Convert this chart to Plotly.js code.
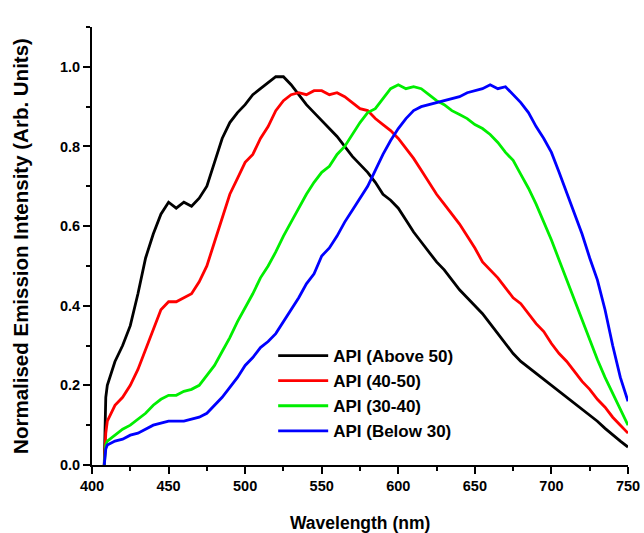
<!DOCTYPE html>
<html>
<head>
<meta charset="utf-8">
<script src="https://cdn.plot.ly/plotly-3.0.1.min.js"></script>
<style>html,body{margin:0;padding:0;background:#fff;}#chart{width:644px;height:533px;}</style>
</head>
<body>
<div id="chart"></div>
<script>
const wavelength = [408,409,410,415,420,425,430,435,440,445,450,455,460,465,470,475,480,485,490,495,500,505,510,515,520,525,530,535,540,545,550,555,560,565,570,575,580,585,590,595,600,605,610,615,620,625,630,635,640,645,650,655,660,665,670,675,680,685,690,695,700,705,710,715,720,725,730,735,740,745,750];

const above50 = [0.0,0.17,0.2,0.26,0.30,0.35,0.43,0.52,0.58,0.63,0.66,0.645,0.66,0.65,0.67,0.70,0.76,0.82,0.86,0.885,0.905,0.93,0.945,0.96,0.975,0.975,0.955,0.93,0.905,0.885,0.865,0.845,0.825,0.80,0.775,0.755,0.735,0.71,0.68,0.665,0.645,0.615,0.585,0.56,0.535,0.51,0.49,0.465,0.44,0.42,0.40,0.38,0.355,0.33,0.305,0.28,0.26,0.245,0.23,0.215,0.2,0.185,0.17,0.155,0.14,0.125,0.11,0.092,0.075,0.06,0.045];

const range40_50 = [0.0,0.08,0.11,0.15,0.17,0.20,0.24,0.29,0.34,0.39,0.41,0.41,0.42,0.43,0.46,0.50,0.56,0.62,0.68,0.72,0.76,0.78,0.82,0.85,0.89,0.915,0.93,0.935,0.93,0.94,0.94,0.93,0.935,0.925,0.91,0.895,0.89,0.87,0.855,0.84,0.82,0.795,0.77,0.74,0.71,0.68,0.655,0.63,0.605,0.575,0.545,0.51,0.49,0.47,0.445,0.42,0.405,0.38,0.355,0.335,0.305,0.28,0.26,0.235,0.21,0.19,0.165,0.145,0.12,0.1,0.08];

const range30_40 = [0.0,0.05,0.06,0.075,0.09,0.10,0.115,0.13,0.15,0.165,0.175,0.175,0.185,0.19,0.20,0.225,0.25,0.285,0.32,0.36,0.395,0.43,0.47,0.50,0.535,0.575,0.61,0.645,0.68,0.71,0.735,0.75,0.78,0.80,0.83,0.86,0.885,0.895,0.92,0.945,0.955,0.945,0.95,0.945,0.93,0.915,0.905,0.89,0.88,0.87,0.855,0.845,0.83,0.81,0.785,0.765,0.73,0.695,0.655,0.61,0.565,0.515,0.465,0.415,0.36,0.31,0.265,0.22,0.18,0.14,0.10];

const below30 = [0.0,0.04,0.05,0.06,0.065,0.075,0.08,0.09,0.10,0.105,0.11,0.11,0.11,0.115,0.12,0.13,0.15,0.17,0.195,0.22,0.25,0.27,0.295,0.31,0.33,0.36,0.39,0.42,0.455,0.48,0.525,0.545,0.575,0.61,0.64,0.67,0.70,0.74,0.78,0.815,0.845,0.87,0.89,0.9,0.905,0.91,0.915,0.92,0.925,0.935,0.94,0.945,0.955,0.945,0.95,0.93,0.91,0.885,0.85,0.82,0.785,0.735,0.685,0.63,0.58,0.52,0.465,0.39,0.3,0.22,0.16];

const seriesNames = ['API (Above 50)','API (40-50)','API (30-40)','API (Below 30)'];
const seriesColors = ['#000000','#ff0000','#00ee00','#0000ff'];
const seriesValues = [above50, range40_50, range30_40, below30];
const xTitle = 'Wavelength (nm)';
const yTitle = 'Normalised Emission Intensity (Arb. Units)';

const traces = seriesValues.map((v,i)=>({
  x: wavelength, y: v, type:'scatter', mode:'lines', name: seriesNames[i],
  line:{color: seriesColors[i], width:2.8}
}));

const FAM = 'Liberation Sans, Arial, sans-serif';
const layout = {
  width:644, height:533,
  margin:{l:92, r:16, t:27, b:68},
  paper_bgcolor:'#fff', plot_bgcolor:'#fff',
  font:{family:FAM, size:14, color:'#000'},
  showlegend:true,
  legend:{x:0.338, y:0.29, xanchor:'left', yanchor:'top', bgcolor:'rgba(0,0,0,0)',
          font:{family:FAM, size:17, color:'#000', weight:'bold'},
          tracegroupgap:0, itemwidth:50},
  annotations:[{text:xTitle, xref:'paper', yref:'paper', x:0.5, y:-0.105, xanchor:'center', yanchor:'top',
                showarrow:false, font:{family:FAM, size:17.5, color:'#000', weight:'bold'}}],
  xaxis:{range:[400,750], dtick:50, tick0:400, showgrid:false, zeroline:false, automargin:false,
         showline:true, linecolor:'#000', linewidth:2, ticks:'outside', ticklen:7, tickwidth:2, tickcolor:'#000',
         minor:{dtick:25, ticks:'outside', ticklen:4, tickwidth:2, tickcolor:'#000'},
         tickfont:{family:FAM, size:14.5, color:'#000', weight:'bold'}},
  yaxis:{range:[0,1.1], dtick:0.2, tick0:0, tickformat:'.1f', showgrid:false, zeroline:false, automargin:false,
         showline:true, linecolor:'#000', linewidth:2, ticks:'outside', ticklen:7, tickwidth:2, tickcolor:'#000',
         minor:{dtick:0.1, ticks:'outside', ticklen:4, tickwidth:2, tickcolor:'#000'},
         tickfont:{family:FAM, size:14.5, color:'#000', weight:'bold'},
         title:{text:yTitle, standoff:26, font:{family:FAM, size:20.5, color:'#000', weight:'bold'}}}
};
Plotly.newPlot('chart', traces, layout, {displayModeBar:false, staticPlot:true});
</script>
</body>
</html>
